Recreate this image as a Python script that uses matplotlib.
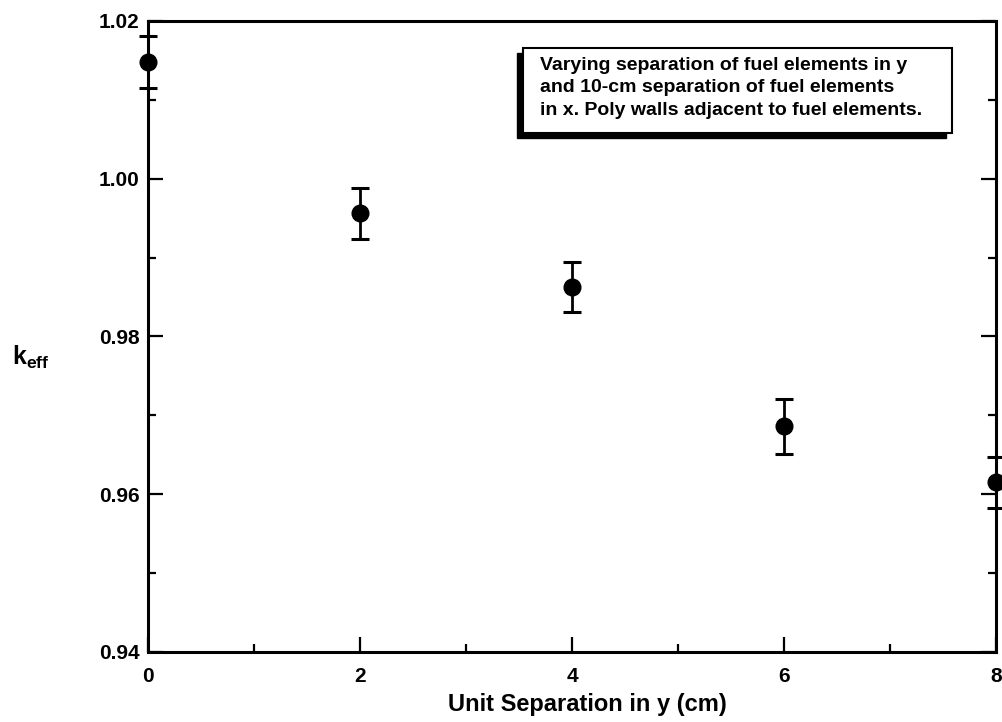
#!/usr/bin/env python3
"""k_eff against unit separation in y, with error bars."""

import matplotlib
matplotlib.use("Agg")
import matplotlib.pyplot as plt
from matplotlib.patches import Rectangle
from matplotlib.ticker import MultipleLocator, FormatStrFormatter

separation_cm = [0, 2, 4, 6, 8]
k_eff = [1.0148, 0.9956, 0.9863, 0.9686, 0.9615]
k_err = [0.0033, 0.0032, 0.0032, 0.0035, 0.0032]

note_lines = [
    "Varying separation of fuel elements in y",
    "and 10-cm separation of fuel elements",
    "in x. Poly walls adjacent to fuel elements.",
]

plt.rcParams["font.family"] = ["Liberation Sans", "DejaVu Sans"]
plt.rcParams["mathtext.fontset"] = "custom"
plt.rcParams["mathtext.rm"] = "Liberation Sans"
plt.rcParams["mathtext.bf"] = "Liberation Sans:bold"

fig = plt.figure(figsize=(10.03, 7.22), dpi=100)
ax = fig.add_axes([0.1476, 0.097, 0.8454, 0.874])

ax.errorbar(separation_cm, k_eff, yerr=k_err, fmt="o", color="black",
            markersize=12, elinewidth=2, capsize=6.5, capthick=2.2,
            clip_on=False, zorder=5)

ax.set_xlim(0, 8)
ax.set_ylim(0.94, 1.02)
ax.xaxis.set_major_locator(MultipleLocator(2))
ax.xaxis.set_minor_locator(MultipleLocator(1))
ax.yaxis.set_major_locator(MultipleLocator(0.02))
ax.yaxis.set_minor_locator(MultipleLocator(0.01))
ax.yaxis.set_major_formatter(FormatStrFormatter("%.2f"))

for spine in ax.spines.values():
    spine.set_linewidth(2.2)
ax.tick_params(which="both", direction="in", width=1.6, top=False, right=True)
ax.tick_params(which="major", length=11, labelsize=15)
ax.tick_params(which="minor", length=6)
ax.tick_params(axis="x", which="major", pad=11)
ax.tick_params(axis="y", which="major", pad=6)
for lbl in ax.get_xticklabels() + ax.get_yticklabels():
    lbl.set_fontweight("bold")

# axis titles placed in figure coordinates
fig.text(587 / 1003, 1 - 705 / 722, "Unit Separation in y (cm)", fontsize=17,
         fontweight="bold", ha="center", va="center")
fig.text(0.012, 1 - 357 / 722, r"$\mathbf{k_{eff}}$", fontsize=18,
         va="center", ha="left")

# annotation box with an offset shadow
bx0, by0, bw, bh = 523 / 1003, 1 - 133 / 722, 429 / 1003, 85 / 722
fig.patches.append(Rectangle((bx0 - 6 / 1003, by0 - 5 / 722), bw, bh,
                             transform=fig.transFigure, facecolor="black",
                             edgecolor="black", zorder=3))
fig.patches.append(Rectangle((bx0, by0), bw, bh, transform=fig.transFigure,
                             facecolor="white", edgecolor="black",
                             linewidth=1.5, zorder=4))
fig.text(540 / 1003, 1 - 88 / 722, "\n".join(note_lines), fontsize=14,
         fontweight="bold", va="center", ha="left", linespacing=1.42,
         zorder=6)

fig.savefig("out.png", dpi=100)
